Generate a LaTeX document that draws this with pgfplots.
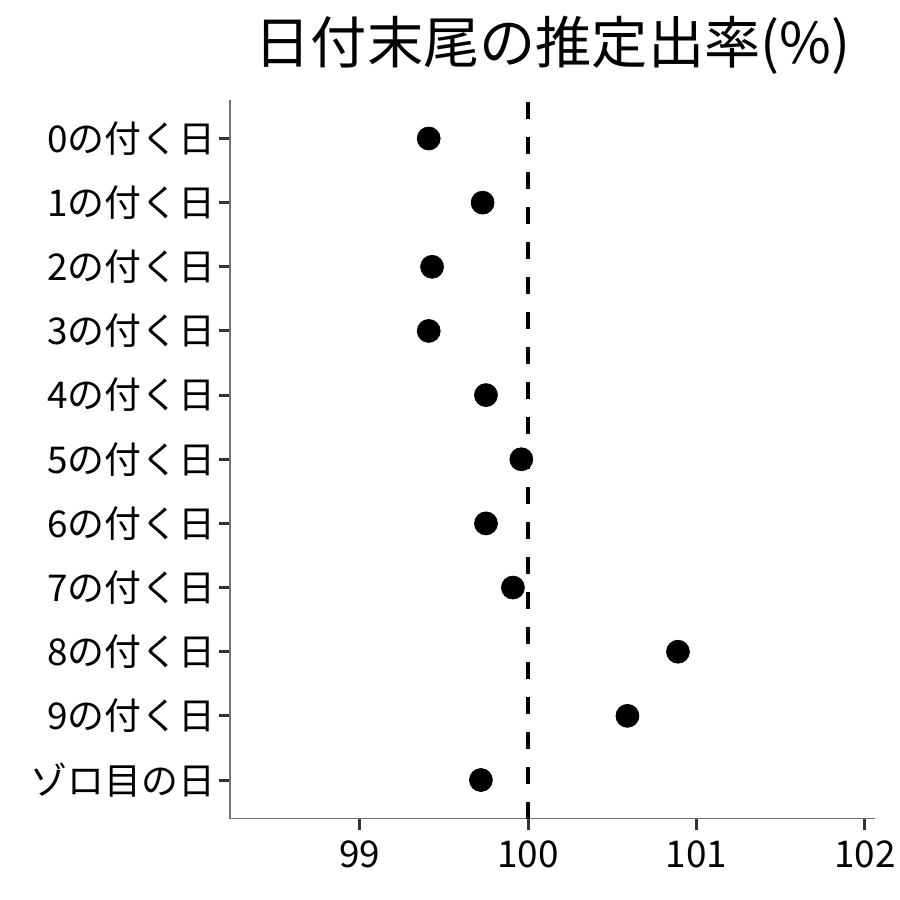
\documentclass[border=0pt]{standalone}
\usepackage{fontspec}
\setmainfont{Noto Sans CJK JP}
\usepackage{pgfplots}
\pgfplotsset{compat=1.18}
\definecolor{axisgray}{gray}{0.45}
\definecolor{tickgray}{gray}{0.2}

\begin{document}
\begin{tikzpicture}
\useasboundingbox (-4.6cm,-1.63cm) rectangle (13.4cm,16.37cm);
\begin{axis}[
    scale only axis,
    width=12.9cm,
    height=14.37cm,
    xmin=98.23, xmax=102.06,
    ymin=-0.6, ymax=10.6,
    axis x line*=bottom,
    axis y line*=left,
    axis line style={axisgray, line width=0.03cm},
    xtick={99,100,101,102},
    ytick={0,1,2,3,4,5,6,7,8,9,10},
    yticklabels={ゾロ目の日,9の付く日,8の付く日,7の付く日,6の付く日,5の付く日,4の付く日,3の付く日,2の付く日,1の付く日,0の付く日},
    tick align=outside,
    major tick length=0.22cm,
    tick style={tickgray, line width=0.06cm},
    ticklabel style={font=\fontsize{21}{25}\selectfont},
    /pgf/number format/assume math mode=true,
    xticklabel style={yshift=-0.1cm},
    yticklabel style={xshift=0.05cm},
    title={日付末尾の推定出率(\%)},
    title style={font=\fontsize{32}{38}\selectfont, at={(0.5,1)}, anchor=base, yshift=0.52cm},
    clip=false,
]

% reference line at 100
\addplot[black, line width=0.09cm, dash pattern=on 0.33cm off 0.37cm]
coordinates {(100,-0.6) (100,10.6)};

% estimated payout rates, top row (0) at y=10
\addplot[only marks, mark=*, mark size=0.23cm, black]
coordinates {
    (99.41,10)
    (99.73,9)
    (99.43,8)
    (99.41,7)
    (99.75,6)
    (99.96,5)
    (99.75,4)
    (99.91,3)
    (100.89,2)
    (100.59,1)
    (99.72,0)
};

\end{axis}
\end{tikzpicture}
\end{document}
